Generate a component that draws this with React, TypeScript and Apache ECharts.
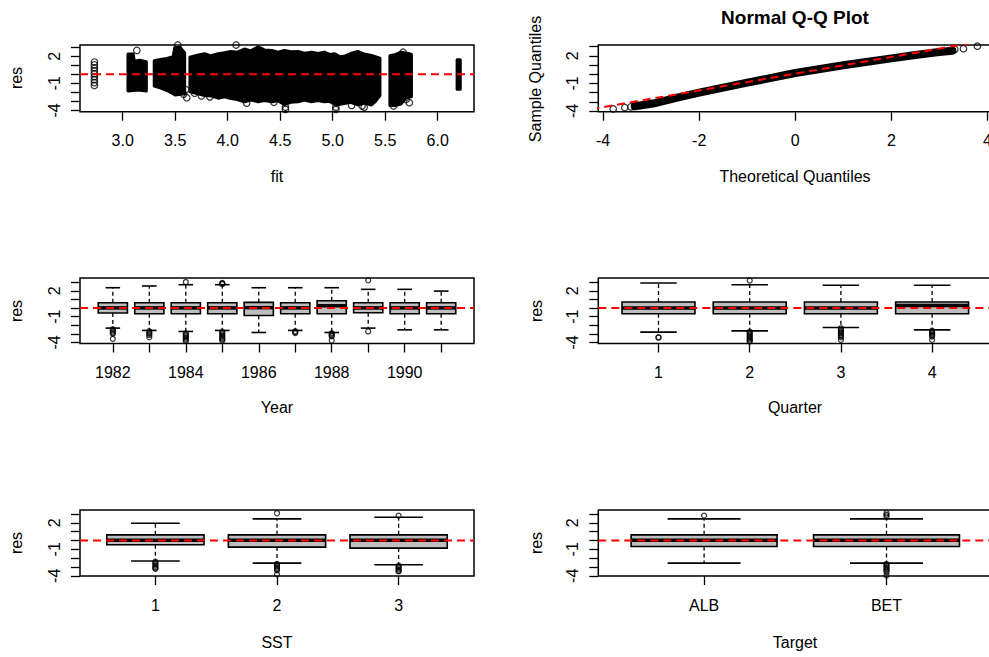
import React, { useEffect, useRef } from "react";
import * as echarts from "echarts";

// ---------------- data ----------------
// shared residual axis
const resTicks = [-4, -3, -2, -1, 0, 1, 2, 3];
const resLabelValues = [-4, -1, 2];

// Panel 1: residuals vs fitted values
const fitTicks = [3.0, 3.5, 4.0, 4.5, 5.0, 5.5, 6.0];
// dense point clouds: upper outline (left→right) and lower outline (right→left), [fit, res]
const cloudBUpper = [[3.05, 2.25], [3.1, 2.25], [3.11, 1.45], [3.16, 1.55], [3.225, 1.4]];
const cloudBLower = [[3.225, -1.85], [3.15, -1.75], [3.05, -1.85]];
const cloudCUpper = [[3.3, 1.5], [3.36, 1.65], [3.42, 1.75], [3.48, 1.95], [3.495, 2.95], [3.545, 3.0], [3.59, 2.4]];
const cloudCLower = [[3.59, -2.15], [3.5, -2.3], [3.44, -1.9], [3.37, -1.55], [3.3, -1.3]];
const cloudDUpper = [
  [3.64, 1.9], [3.7, 2.1], [3.78, 2.28], [3.84, 2.05], [3.91, 2.28], [3.97, 2.4], [4.03, 2.54], [4.09, 2.45],
  [4.16, 2.8], [4.22, 2.6], [4.29, 3.05], [4.35, 2.7], [4.42, 2.65], [4.48, 2.45], [4.54, 2.65], [4.6, 2.5],
  [4.67, 2.54], [4.73, 2.35], [4.8, 2.46], [4.86, 2.3], [4.92, 2.46], [4.97, 2.2], [5.02, 2.28], [5.07, 1.95],
  [5.11, 2.0], [5.17, 2.3], [5.24, 2.54], [5.3, 2.25], [5.37, 2.09], [5.45, 1.8],
];
const cloudDLower = [
  [5.45, -2.35], [5.4, -3.1], [5.37, -3.4], [5.3, -3.2], [5.24, -3.4], [5.17, -3.1], [5.11, -3.25],
  [5.03, -3.4], [4.97, -3.0], [4.92, -3.05], [4.86, -2.9], [4.8, -3.05], [4.73, -2.85], [4.67, -3.05],
  [4.6, -3.1], [4.54, -3.35], [4.48, -2.95], [4.42, -3.05], [4.35, -2.9], [4.29, -3.05], [4.22, -2.85],
  [4.16, -3.05], [4.09, -2.8], [4.03, -2.7], [3.97, -2.5], [3.91, -2.65], [3.84, -2.4], [3.78, -2.35],
  [3.7, -2.1], [3.64, -1.95],
];
const cloudEUpper = [[5.545, 2.05], [5.6, 2.2], [5.65, 2.45], [5.72, 2.3], [5.75, 2.2]];
const cloudELower = [[5.75, -2.5], [5.7, -2.6], [5.65, -3.3], [5.6, -3.45], [5.545, -3.45]];
const cloudFUpper = [[6.185, 1.6], [6.215, 1.6]];
const cloudFLower = [[6.215, -1.65], [6.185, -1.65]];
// isolated points [fit, res]
const sparsePoints = [
  [2.73, 1.36], [2.73, 1.04], [2.73, 0.72], [2.73, 0.4], [2.73, 0.08], [2.73, -0.25], [2.73, -0.6],
  [2.73, -0.92], [2.73, -1.24],
  [3.135, 2.65], [3.525, 3.25], [3.58, -2.2], [3.6, -1.7], [3.61, -2.6], [3.685, -2.1], [3.75, -2.4],
  [3.83, -2.5], [4.08, 3.25], [4.18, -3.2], [4.44, -3.1], [4.55, -3.65], [4.55, -3.9], [5.03, -3.65],
  [5.03, -3.9], [5.18, -3.45], [5.28, -3.5], [5.3, -3.65], [5.58, -3.5], [5.73, -3.15], [5.7, -2.8],
  [5.67, 2.45],
];

// Panel 2: normal Q-Q plot
const qqTicks = [-4, -2, 0, 2, 4];
const qqBandTheo = [-3.34, -2.96, -2.5, -2, -1, 0, 1, 2, 2.5, 2.95, 3.27];
const qqBandSample = [-3.49, -3.19, -2.6, -2.0, -0.92, 0.13, 0.98, 1.72, 2.1, 2.4, 2.55];
const qqTailTheo = [-3.79, -3.55, -3.42, 3.32, 3.5, 3.79];
const qqTailSample = [-3.78, -3.62, -3.55, 2.69, 2.78, 3.05];
const qqLineIntercept = 0.06;
const qqLineSlope = 0.91;

// Box plots: [lower whisker, Q1, median, Q3, upper whisker]
const yearCategories = ["1982", "1983", "1984", "1985", "1986", "1987", "1988", "1989", "1990", "1991"];
const yearLabelPositions = [1, 3, 5, 7, 9];
const yearStats = [
  [-2.33, -0.58, 0.02, 0.62, 2.37],
  [-2.6, -0.66, 0.02, 0.62, 2.57],
  [-2.72, -0.66, 0.02, 0.62, 2.72],
  [-2.6, -0.66, 0.02, 0.62, 2.72],
  [-2.84, -0.86, 0.05, 0.66, 2.37],
  [-2.6, -0.66, 0.02, 0.62, 2.37],
  [-2.84, -0.66, 0.27, 0.86, 2.37],
  [-2.33, -0.54, 0.02, 0.62, 2.18],
  [-2.53, -0.66, 0.02, 0.62, 2.18],
  [-2.53, -0.66, 0.02, 0.62, 1.98],
];
const yearOutliers = [
  [-2.45, -2.6, -2.75, -2.9, -3.0, -3.58],
  [-2.7, -2.85, -3.0, -3.15, -3.4],
  [3.03, -2.95, -3.1, -3.25, -3.4, -3.55, -3.7, -3.85],
  [2.92, 2.85, 2.78, -2.75, -2.9, -3.05, -3.2, -3.35, -3.5, -3.65, -3.77],
  [],
  [-2.7, -2.8, -2.92],
  [-2.92, -3.05, -3.18, -3.27, -3.77],
  [3.23, -2.72],
  [],
  [],
];

const quarterCategories = ["1", "2", "3", "4"];
const quarterStats = [
  [-2.8, -0.66, 0.02, 0.7, 2.92],
  [-2.65, -0.66, 0.02, 0.7, 2.72],
  [-2.26, -0.66, 0.02, 0.7, 2.65],
  [-2.53, -0.66, 0.31, 0.7, 2.65],
];
const quarterOutliers = [
  [-3.38, -3.45],
  [3.19, -2.75, -2.9, -3.05, -3.2, -3.35, -3.5, -3.65, -3.8, -3.9],
  [-2.35, -2.5, -2.65, -2.8, -2.95, -3.1, -3.25, -3.4, -3.7],
  [-2.62, -2.77, -2.92, -3.07, -3.2, -3.3, -3.7],
];

const sstCategories = ["1", "2", "3"];
const sstStats = [
  [-2.33, -0.49, 0.02, 0.64, 1.95],
  [-2.56, -0.75, 0.02, 0.64, 2.44],
  [-2.74, -0.86, 0.02, 0.64, 2.63],
];
const sstOutliers = [
  [-2.4, -2.55, -2.7, -2.85, -3.0, -3.15, -3.2],
  [3.08, -2.65, -2.8, -2.95, -3.1, -3.25, -3.38, -3.83],
  [2.82, -2.85, -3.0, -3.15, -3.3, -3.45, -3.5],
];

const targetCategories = ["ALB", "BET"];
const targetStats = [
  [-2.56, -0.68, 0.02, 0.64, 2.44],
  [-2.56, -0.68, 0.02, 0.64, 2.44],
];
const targetOutliers = [
  [2.82],
  [3.08, 2.9, 2.72, -2.65, -2.8, -2.95, -3.1, -3.25, -3.4, -3.57, -3.95],
];

// ---------------- layout / style ----------------
const FONT = '"Liberation Sans", Arial, Helvetica, sans-serif';
const FS = 16;
const INK = "#000";
const RED = "#FF0000";
const BOX_FILL = "#BEBEBE";

const PANEL_W = 394;
const LEFT_X = 80;
const RIGHT_X = 598.3;
const ROWS = [
  { top: 45, height: 66.7 },
  { top: 278, height: 65.5 },
  { top: 510, height: 66 },
];

const fitRange = [2.593, 6.346];
const qqXRange = [-4.1, 4.1];
const row1YRange = [-4.15, 3.25];
const qqYRange = [-4.08, 3.18];
const row2YRange = [-4.12, 3.5];
const row3YRange = [-4.02, 3.45];

const boxRange = (n: number) => [0.5 - 0.04 * n, n + 0.5 + 0.04 * n];

function makeGrid(left: number, row: { top: number; height: number }) {
  return {
    left,
    top: row.top,
    width: PANEL_W,
    height: row.height,
    show: true,
    borderColor: INK,
    borderWidth: 1.5,
    backgroundColor: "transparent",
    containLabel: false,
    outerBoundsMode: "none",
  };
}

const labelStyle = { color: INK, fontSize: FS, fontFamily: FONT };

function xAxis(gridIndex: number, range: number[], ticks: number[], labels: number[], formatter: (v: number) => string) {
  return {
    type: "value",
    gridIndex,
    min: range[0],
    max: range[1],
    axisLine: { show: false, onZero: false },
    axisTick: { show: true, customValues: ticks, length: 9, inside: false, lineStyle: { color: INK, width: 1.3 } },
    axisLabel: { ...labelStyle, customValues: labels, margin: 21, formatter, showMinLabel: true, showMaxLabel: true },
    splitLine: { show: false },
  };
}

function yAxis(gridIndex: number, range: number[]) {
  return {
    type: "value",
    gridIndex,
    min: range[0],
    max: range[1],
    axisLine: { show: false, onZero: false },
    axisTick: { show: true, customValues: resTicks, length: 9, inside: false, lineStyle: { color: INK, width: 1.3 } },
    axisLabel: { ...labelStyle, customValues: resLabelValues, rotate: 90, margin: 18 },
    splitLine: { show: false },
  };
}

function zeroLine(idx: number, xr: number[]) {
  return {
    type: "line",
    xAxisIndex: idx,
    yAxisIndex: idx,
    data: [[xr[0], 0], [xr[1], 0]],
    symbol: "none",
    silent: true,
    z: 10,
    lineStyle: { color: RED, width: 2, type: [8, 5] },
  };
}

const boxRender = (params: any, api: any) => {
  const x = api.value(0) as number;
  const low = api.value(1) as number;
  const q1 = api.value(2) as number;
  const med = api.value(3) as number;
  const q3 = api.value(4) as number;
  const high = api.value(5) as number;
  const w = api.size([0.8, 0])[0];
  const cx = api.coord([x, 0])[0];
  const yLow = api.coord([x, low])[1];
  const yQ1 = api.coord([x, q1])[1];
  const yMed = api.coord([x, med])[1];
  const yQ3 = api.coord([x, q3])[1];
  const yHigh = api.coord([x, high])[1];
  const dash = { stroke: INK, lineWidth: 1.3, lineDash: [4, 3] };
  const solid = { stroke: INK, lineWidth: 1.6 };
  return {
    type: "group",
    children: [
      { type: "line", shape: { x1: cx, y1: yQ3, x2: cx, y2: yHigh }, style: dash },
      { type: "line", shape: { x1: cx, y1: yQ1, x2: cx, y2: yLow }, style: dash },
      { type: "line", shape: { x1: cx - w / 4, y1: yHigh, x2: cx + w / 4, y2: yHigh }, style: solid },
      { type: "line", shape: { x1: cx - w / 4, y1: yLow, x2: cx + w / 4, y2: yLow }, style: solid },
      { type: "rect", shape: { x: cx - w / 2, y: yQ3, width: w, height: yQ1 - yQ3 }, style: { fill: BOX_FILL, stroke: INK, lineWidth: 1.6 } },
      { type: "line", shape: { x1: cx - w / 2, y1: yMed, x2: cx + w / 2, y2: yMed }, style: { stroke: INK, lineWidth: 3.5 } },
    ],
  };
};

function boxSeries(idx: number, stats: number[][], outliers: number[][], n: number) {
  return [
    {
      type: "custom",
      xAxisIndex: idx,
      yAxisIndex: idx,
      renderItem: boxRender,
      encode: { x: 0, y: [1, 2, 3, 4, 5] },
      data: stats.map((s, i) => [i + 1, ...s]),
      silent: true,
      z: 2,
    },
    {
      type: "scatter",
      xAxisIndex: idx,
      yAxisIndex: idx,
      symbol: "circle",
      symbolSize: 5,
      itemStyle: { color: "rgba(0,0,0,0)", borderColor: INK, borderWidth: 1.2 },
      data: outliers.flatMap((arr, i) => arr.map((v) => [i + 1, v])),
      silent: true,
      z: 3,
    },
    zeroLine(idx, boxRange(n)),
  ];
}

function textEl(text: string, x: number, y: number, opts: any = {}) {
  return {
    type: "text",
    x,
    y,
    rotation: opts.rotate ? Math.PI / 2 : 0,
    silent: true,
    style: {
      text,
      fill: INK,
      fontSize: opts.fontSize || FS,
      fontWeight: opts.bold ? "bold" : "normal",
      fontFamily: FONT,
      align: "center",
      verticalAlign: "middle",
    },
  };
}

export default function App() {
  const ref = useRef<HTMLDivElement>(null);
  useEffect(() => {
    if (!ref.current) return;
    const chart = echarts.init(ref.current, undefined, { renderer: "svg" });
    const clouds = [
      { upper: cloudBUpper, lower: cloudBLower },
      { upper: cloudCUpper, lower: cloudCLower },
      { upper: cloudDUpper, lower: cloudDLower },
      { upper: cloudEUpper, lower: cloudELower },
      { upper: cloudFUpper, lower: cloudFLower },
    ];
    const qqLineData = qqXRange.map((t) => {
      const tt = t * 1.1;
      return [tt, qqLineIntercept + qqLineSlope * tt];
    });
    const option: any = {
      animation: false,
      backgroundColor: "#fff",
      textStyle: { fontFamily: FONT },
      grid: [
        makeGrid(LEFT_X, ROWS[0]),
        makeGrid(RIGHT_X, ROWS[0]),
        makeGrid(LEFT_X, ROWS[1]),
        makeGrid(RIGHT_X, ROWS[1]),
        makeGrid(LEFT_X, ROWS[2]),
        makeGrid(RIGHT_X, ROWS[2]),
      ],
      xAxis: [
        xAxis(0, fitRange, fitTicks, fitTicks, (v) => v.toFixed(1)),
        xAxis(1, qqXRange, qqTicks, qqTicks, (v) => String(v)),
        xAxis(2, boxRange(yearCategories.length), yearCategories.map((_, i) => i + 1), yearLabelPositions, (v) => yearCategories[Math.round(v) - 1]),
        xAxis(3, boxRange(quarterCategories.length), quarterCategories.map((_, i) => i + 1), quarterCategories.map((_, i) => i + 1), (v) => quarterCategories[Math.round(v) - 1]),
        xAxis(4, boxRange(sstCategories.length), sstCategories.map((_, i) => i + 1), sstCategories.map((_, i) => i + 1), (v) => sstCategories[Math.round(v) - 1]),
        xAxis(5, boxRange(targetCategories.length), targetCategories.map((_, i) => i + 1), targetCategories.map((_, i) => i + 1), (v) => targetCategories[Math.round(v) - 1]),
      ],
      yAxis: [
        yAxis(0, row1YRange),
        yAxis(1, qqYRange),
        yAxis(2, row2YRange),
        yAxis(3, row2YRange),
        yAxis(4, row3YRange),
        yAxis(5, row3YRange),
      ],
      series: [
        {
          type: "custom",
          xAxisIndex: 0,
          yAxisIndex: 0,
          clip: true,
          silent: true,
          encode: { x: 0, y: 1 },
          data: clouds.map((c) => [c.upper[0][0], c.upper[0][1]]),
          renderItem: (params: any, api: any) => {
            const c = clouds[params.dataIndex];
            const pts = [...c.upper, ...c.lower].map((p) => api.coord(p));
            return {
              type: "polygon",
              shape: { points: pts },
              style: { fill: INK, stroke: INK, lineWidth: 3, lineJoin: "round" },
            };
          },
          z: 2,
        },
        {
          type: "scatter",
          xAxisIndex: 0,
          yAxisIndex: 0,
          symbol: "circle",
          symbolSize: 6.5,
          silent: true,
          itemStyle: { color: "rgba(0,0,0,0)", borderColor: INK, borderWidth: 1.2 },
          data: sparsePoints,
          z: 3,
        },
        zeroLine(0, fitRange),
        {
          type: "line",
          xAxisIndex: 1,
          yAxisIndex: 1,
          symbol: "none",
          silent: true,
          data: qqBandTheo.map((t, i) => [t, qqBandSample[i]]),
          lineStyle: { color: INK, width: 8, cap: "round", join: "round" },
          z: 2,
        },
        {
          type: "scatter",
          xAxisIndex: 1,
          yAxisIndex: 1,
          symbol: "circle",
          symbolSize: 6.5,
          silent: true,
          itemStyle: { color: "rgba(0,0,0,0)", borderColor: INK, borderWidth: 1.2 },
          data: qqTailTheo.map((t, i) => [t, qqTailSample[i]]),
          z: 3,
        },
        {
          type: "line",
          xAxisIndex: 1,
          yAxisIndex: 1,
          symbol: "none",
          silent: true,
          clip: true,
          data: qqLineData,
          lineStyle: { color: RED, width: 2, type: [8, 5] },
          z: 10,
        },
        ...boxSeries(2, yearStats, yearOutliers, yearCategories.length),
        ...boxSeries(3, quarterStats, quarterOutliers, quarterCategories.length),
        ...boxSeries(4, sstStats, sstOutliers, sstCategories.length),
        ...boxSeries(5, targetStats, targetOutliers, targetCategories.length),
      ],
      graphic: [
        textEl("Normal Q-Q Plot", 795, 17, { fontSize: 19, bold: true }),
        textEl("res", 16.5, 78, { rotate: true }),
        textEl("Sample Quantiles", 535.5, 79, { rotate: true }),
        textEl("res", 16.5, 311, { rotate: true }),
        textEl("res", 536, 311, { rotate: true }),
        textEl("res", 16.5, 543, { rotate: true }),
        textEl("res", 536, 543, { rotate: true }),
        textEl("fit", 277, 176),
        textEl("Theoretical Quantiles", 795, 176),
        textEl("Year", 277, 407.5),
        textEl("Quarter", 795, 407.5),
        textEl("SST", 277, 642.5),
        textEl("Target", 795, 642),
      ],
    };
    chart.setOption(option);
    return () => chart.dispose();
  }, []);
  return (
    <div
      ref={ref}
      style={{ position: "absolute", left: 0, top: 0, width: 989, height: 657, background: "#fff" }}
    />
  );
}
